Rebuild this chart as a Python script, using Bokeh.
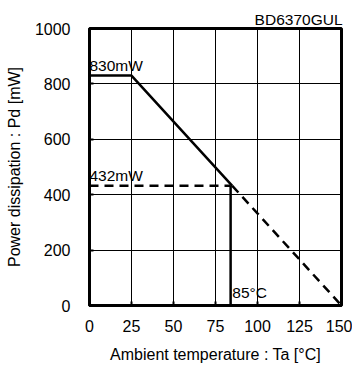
from bokeh.plotting import figure
from bokeh.models import Range1d, Label, FixedTicker
from bokeh.embed import file_html
from bokeh.resources import INLINE

# Data
x_ticks = [0, 25, 50, 75, 100, 125, 150]
y_ticks = [0, 200, 400, 600, 800, 1000]
solid_t = [0, 25, 85]
solid_pd = [830, 830, 432]
limit_t = [0, 84]
limit_pd = [432, 432]
derate_t = [85, 150]
derate_pd = [432, 0]
vert_t = [84, 84]
vert_pd = [432, 0]
pd_max = 830
pd_limit = 432
t_limit = 85
part_name = "BD6370GUL"

FONT = "Liberation Sans"

p = figure(width=352, height=367, output_backend="svg", toolbar_location=None,
           x_range=Range1d(0, 150), y_range=Range1d(0, 1000),
           min_border_left=89, min_border_right=11, min_border_top=28, min_border_bottom=62)
p.background_fill_color = "white"
p.border_fill_color = "white"
p.outline_line_color = "black"
p.outline_line_width = 3

p.title.text = part_name
p.title.align = "right"
p.title.text_font = FONT
p.title.text_font_size = "15.5px"
p.title.text_font_style = "normal"
p.title.text_color = "black"
p.title.offset = -1
p.title.standoff = 1

for ax in (p.xaxis[0], p.yaxis[0]):
    ax.axis_line_width = 3
    ax.axis_line_color = "black"
    ax.major_tick_in = 4
    ax.major_tick_out = 0
    ax.major_tick_line_width = 2
    ax.minor_tick_line_color = None
    ax.major_label_text_font = FONT
    ax.major_label_text_font_size = "16px"
    ax.major_label_text_color = "black"
    ax.axis_label_text_font = FONT
    ax.axis_label_text_font_size = "16px"
    ax.axis_label_text_font_style = "normal"
    ax.axis_label_text_color = "black"

p.xaxis.ticker = FixedTicker(ticks=x_ticks)
p.yaxis.ticker = FixedTicker(ticks=y_ticks)
p.xaxis.axis_label = "Ambient temperature : Ta [°C]"
p.yaxis.axis_label = "Power dissipation : Pd [mW]"
p.xaxis.major_label_standoff = 14
p.yaxis.major_label_standoff = 19
p.xaxis.axis_label_standoff = 11
p.yaxis.axis_label_standoff = 9

p.xgrid.ticker = FixedTicker(ticks=x_ticks)
p.ygrid.ticker = FixedTicker(ticks=y_ticks)
p.xgrid.grid_line_color = "black"
p.ygrid.grid_line_color = "black"
p.xgrid.grid_line_width = 1
p.ygrid.grid_line_width = 1

p.line(solid_t, solid_pd, line_color="black", line_width=2.5)
p.line(vert_t, vert_pd, line_color="black", line_width=2.5)
p.line(limit_t, limit_pd, line_color="black", line_width=2.5, line_dash="9 6")
p.line(derate_t, derate_pd, line_color="black", line_width=2.5, line_dash="9 6")

for val in (pd_max, pd_limit):
    p.add_layout(Label(x=0, y=val, text=f"{val}mW", x_offset=0, y_offset=2,
                       text_baseline="bottom", level="overlay",
                       text_font=FONT, text_font_size="15.5px", text_color="black"))
p.add_layout(Label(x=t_limit, y=0, text=f"{t_limit}°C", x_offset=0, y_offset=5,
                   text_baseline="bottom", level="overlay",
                   text_font=FONT, text_font_size="15.5px", text_color="black"))

open("out.html", "w").write(file_html(p, INLINE))
